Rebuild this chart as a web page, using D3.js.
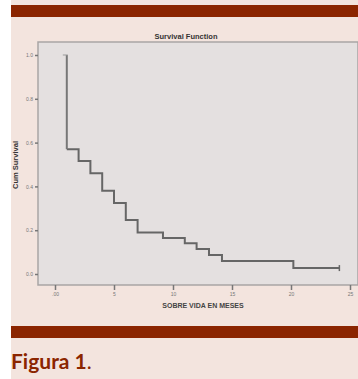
<!DOCTYPE html>
<html><head><meta charset="utf-8">
<script src="https://cdn.jsdelivr.net/npm/d3@7"></script>
<style>body{margin:0;background:#fff}svg{display:block}</style>
</head><body>
<script>
const times = [0, 1, 2, 3, 4, 5, 6, 7, 9.15, 11, 12, 13.05, 14.15, 20.2];
const survival = [1.0, 0.57, 0.516, 0.46, 0.38, 0.324, 0.247, 0.19, 0.164, 0.14, 0.114, 0.087, 0.059, 0.027];
const endTime = 24.1;
const xTicks = [0, 5, 10, 15, 20, 25];
const xTickLabels = [".00", "5", "10", "15", "20", "25"];
const yTicks = [0, 0.2, 0.4, 0.6, 0.8, 1.0];
const yTickLabels = ["0.0", "0.2", "0.4", "0.6", "0.8", "1.0"];

const W = 358, H = 379;
const svg = d3.select("body").append("svg").attr("width", W).attr("height", H);
svg.append("rect").attr("x", 11).attr("y", 0).attr("width", W - 11).attr("height", H).attr("fill", "#f3e4de");
svg.append("rect").attr("x", 11).attr("y", 5).attr("width", W - 11).attr("height", 12).attr("fill", "#8b2500");
svg.append("rect").attr("x", 11).attr("y", 326).attr("width", W - 11).attr("height", 12).attr("fill", "#8b2500");
svg.append("text").attr("x", 11).attr("y", 369).attr("fill", "#8b2500")
  .style("font-family", "Lato, sans-serif").style("font-size", "21px").style("font-weight", "bold")
  .text("Figura 1").append("tspan").style("font-weight", "normal").text(".");

const x = d3.scaleLinear().domain([0, 25]).range([55, 350]);
const y = d3.scaleLinear().domain([0, 1]).range([274, 55]);

svg.append("rect").attr("x", 38).attr("y", 42).attr("width", W - 38).attr("height", 243)
  .attr("fill", "#e4e0e0").attr("stroke", "#a9a5a5").attr("stroke-width", 1.5);

const line = d3.line().x(d => x(d[0])).y(d => y(d[1])).curve(d3.curveStepAfter);
const pts = times.map((t, i) => [t, survival[i]]);
pts.push([endTime, survival[survival.length - 1]]);
svg.append("path").datum(pts.slice(1)).attr("d", line).attr("fill", "none")
  .attr("stroke", "#666").attr("stroke-width", 2);
// initial drop
svg.append("line").attr("x1", x(times[1])).attr("x2", x(times[1])).attr("y1", y(1)).attr("y2", y(survival[1]))
  .attr("stroke", "#777").attr("stroke-width", 2);
svg.append("line").attr("x1", x(times[1]) - 4).attr("x2", x(times[1]) + 1).attr("y1", y(1)).attr("y2", y(1))
  .attr("stroke", "#999").attr("stroke-width", 1);
// censor tick at end
svg.append("line").attr("x1", x(endTime)).attr("x2", x(endTime)).attr("y1", y(survival[survival.length-1]) - 3).attr("y2", y(survival[survival.length-1]) + 3)
  .attr("stroke", "#666").attr("stroke-width", 1.5);

const xAxis = d3.axisBottom(x).tickValues(xTicks).tickFormat((d, i) => xTickLabels[i]).tickSize(5).tickPadding(2);
const gx = svg.append("g").attr("transform", "translate(0,285)").call(xAxis);
gx.select(".domain").remove();
gx.selectAll("line").attr("stroke", "#777").attr("stroke-width", 1.5);
gx.selectAll("text").attr("fill", "#777").style("font-size", "5px").style("font-family", "Arial, sans-serif");

const yAxis = d3.axisLeft(y).tickValues(yTicks).tickFormat((d, i) => yTickLabels[i]).tickSize(3).tickPadding(2);
const gy = svg.append("g").attr("transform", "translate(38,0)").call(yAxis);
gy.select(".domain").remove();
gy.selectAll("line").attr("stroke", "#777").attr("stroke-width", 1.5);
gy.selectAll("text").attr("fill", "#777").style("font-size", "5px").style("font-family", "Arial, sans-serif");

svg.append("text").attr("x", 186).attr("y", 39).attr("text-anchor", "middle")
  .style("font-family", "Arial, sans-serif").style("font-size", "7.5px").style("font-weight", "bold").attr("fill", "#333")
  .text("Survival Function");
svg.append("text").attr("x", 203).attr("y", 308).attr("text-anchor", "middle")
  .style("font-family", "Arial, sans-serif").style("font-size", "7px").style("font-weight", "bold").attr("fill", "#444")
  .text("SOBRE VIDA EN MESES");
svg.append("text").attr("transform", "translate(18,165) rotate(-90)").attr("text-anchor", "middle")
  .style("font-family", "Arial, sans-serif").style("font-size", "7.5px").style("font-weight", "bold").attr("fill", "#333")
  .text("Cum Survival");
</script>
</body></html>
